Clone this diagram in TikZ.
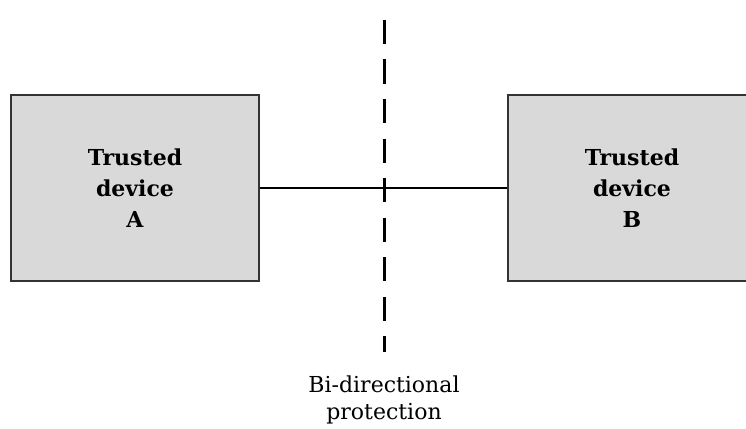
\documentclass[tikz,border=0pt]{standalone}
\usepackage{fontspec}
\setmainfont{DejaVu Serif}

\begin{document}
\begin{tikzpicture}[x=1pt,y=-1pt,
  devbox/.style={draw=black!80, fill=black!15, line width=1.2pt,
    minimum width=248pt, minimum height=186pt, inner sep=0pt,
    align=center, font=\bfseries\fontsize{22}{31}\selectfont},
  label text/.style={align=center, font=\fontsize{22}{27}\selectfont}]
\useasboundingbox (0,0) rectangle (746,428);
\node[devbox] (devA) at (135,188) {Trusted\\device\\A};
\node[devbox] (devB) at (632,188) {Trusted\\device\\B};
\draw[line width=1.2pt] (devA) -- (devB);
% boundary
\coordinate (cutTop) at (384,20);
\coordinate (cutBot) at (384,352);
\draw[line width=3pt, dash pattern=on 24pt off 15.5pt] (cutTop) -- (cutBot);
\node[label text] (prot) at (384,400) {Bi-directional\\protection};
\end{tikzpicture}
\end{document}
